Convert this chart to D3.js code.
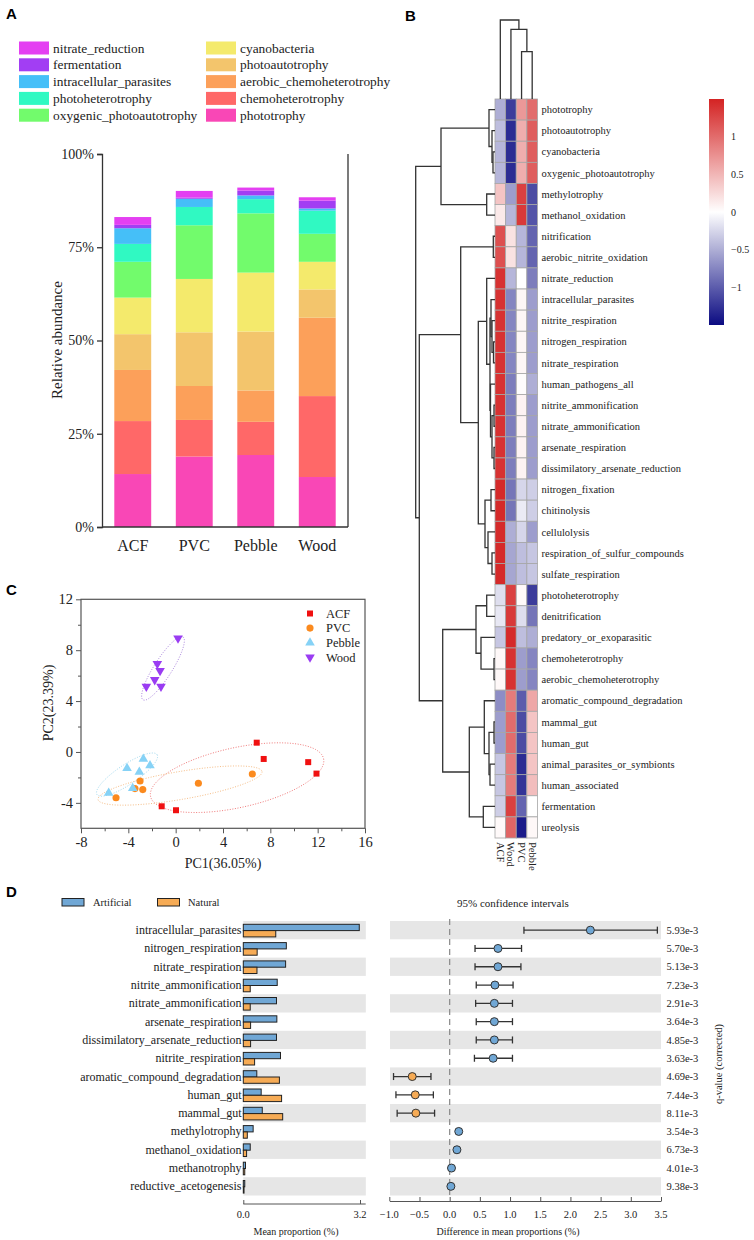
<!DOCTYPE html>
<html><head><meta charset="utf-8">
<script src="https://cdn.jsdelivr.net/npm/d3@7"></script>
<style>
body{margin:0;background:#fff}
svg{display:block}
text{font-family:"Liberation Serif","Times New Roman",serif;fill:#222}
.plab{font-family:"Liberation Sans",Arial,sans-serif;font-weight:bold;font-size:15px;fill:#000}
</style>
</head><body><svg id="c" width="754" height="1240"></svg>
<script>
// ================= DATA =================
// Panel A
const samplesA = ["ACF","PVC","Pebble","Wood"];
const phototrophy = [14.2,18.9,19.3,13.4];
const chemoheterotrophy = [14.2,9.8,8.9,21.7];
const aerobicChemoheterotrophy = [13.7,9.1,8.4,21.0];
const photoautotrophy = [9.6,14.4,15.8,7.6];
const cyanobacteria = [9.8,14.3,15.8,7.4];
const oxygenicPhotoautotrophy = [9.6,14.4,15.9,7.5];
const photoheterotrophy = [4.8,4.9,3.8,6.2];
const intracellularParasites = [4.2,2.2,1.0,0.6];
const fermentation = [0.9,0.3,1.3,2.1];
const nitrateReduction = [2.1,1.8,0.8,0.9];
const yTicksA = [0,25,50,75,100];

// Panel B
const heatCols = ["ACF","Wood","PVC","Pebble"];
const heatRows = ["phototrophy","photoautotrophy","cyanobacteria","oxygenic_photoautotrophy","methylotrophy","methanol_oxidation","nitrification","aerobic_nitrite_oxidation","nitrate_reduction","intracellular_parasites","nitrite_respiration","nitrogen_respiration","nitrate_respiration","human_pathogens_all","nitrite_ammonification","nitrate_ammonification","arsenate_respiration","dissimilatory_arsenate_reduction","nitrogen_fixation","chitinolysis","cellulolysis","respiration_of_sulfur_compounds","sulfate_respiration","photoheterotrophy","denitrification","predatory_or_exoparasitic","chemoheterotrophy","aerobic_chemoheterotrophy","aromatic_compound_degradation","mammal_gut","human_gut","animal_parasites_or_symbionts","human_associated","fermentation","ureolysis"];
const heatACF =    [-0.5,-0.4,-0.45,-0.45,0.4,0.15,1.2,1.2,1.4,1.4,1.4,1.4,1.4,1.4,1.4,1.4,1.4,1.4,1.45,1.45,1.45,1.45,1.45,-0.2,-0.15,-0.35,0.05,0.05,-0.7,-0.6,-0.6,-0.35,-0.35,-0.3,0.04];
const heatWood =   [-1.2,-1.3,-1.3,-1.3,-0.6,-0.45,0.2,0.2,-0.45,-0.75,-0.75,-0.75,-0.75,-0.8,-0.8,-0.8,-0.8,-0.8,-0.85,-0.85,-0.5,-0.55,-0.55,1.3,1.35,1.45,1.4,1.4,0.9,1.0,1.0,0.9,0.9,1.3,1.05];
const heatPVC =    [0.7,0.55,0.55,0.55,1.3,1.35,-0.45,-0.45,0.0,0.06,0.06,0.06,0.06,0.02,0.08,0.08,0.08,0.08,-0.25,-0.12,-0.25,-0.4,-0.4,0.04,-0.2,-0.4,-0.6,-0.6,-1.0,-1.1,-1.1,-1.3,-1.25,-0.95,-1.4];
const heatPebble = [1.0,1.1,1.1,1.1,-1.1,-1.05,-0.95,-0.95,-0.8,-0.6,-0.6,-0.6,-0.6,-0.5,-0.6,-0.6,-0.6,-0.6,-0.3,-0.3,-0.6,-0.35,-0.35,-1.2,-0.85,-0.5,-0.75,-0.75,0.6,0.4,0.4,0.4,0.45,0.0,0.05];
const colorbarTicks = [1,0.5,0,-0.5,-1];
// row dendrogram: [height, left, right]
const rowTree = [79.3,
  [54, [6,"phototrophy",[3,"photoautotrophy",[2,"cyanobacteria","oxygenic_photoautotrophy"]]],
       [8.3,"methylotrophy","methanol_oxidation"]],
  [75.7,
    [34.3, [1.7,"nitrification","aerobic_nitrite_oxidation"],
           [16.7, [8.3,"nitrate_reduction",
                     [5,[4,"intracellular_parasites",[3,"nitrite_respiration",[1.5,"nitrogen_respiration","nitrate_respiration"]]],
                        [4.5,"human_pathogens_all",[3,[1,"nitrite_ammonification","nitrate_ammonification"],[1,"arsenate_respiration","dissimilatory_arsenate_reduction"]]]]],
                  [10,[4,"nitrogen_fixation","chitinolysis"],[7,"cellulolysis",[3,"respiration_of_sulfur_compounds","sulfate_respiration"]]]]],
    [52.3, [19,[8.3,"photoheterotrophy","denitrification"],[14,"predatory_or_exoparasitic",[1,"chemoheterotrophy","aerobic_chemoheterotrophy"]]],
           [25.7,[10.7,"aromatic_compound_degradation",[6,[1,"mammal_gut","human_gut"],[5,"animal_parasites_or_symbionts","human_associated"]]],
                 [11.7,"fermentation","ureolysis"]]]]];
const colTree = [79, "ACF", [69.7, "Wood", [47.3, "PVC", "Pebble"]]];

// Panel C
const acfPts = [[6.85,0.73],[7.44,-0.55],[11.2,-0.8],[11.9,-1.7],[-1.18,-4.27],[0.03,-4.58]];
const pvcPts = [[1.92,-2.46],[6.48,-1.73],[-3.01,-2.28],[-3.44,-2.88],[-2.78,-2.96],[-5.04,-3.6]];
const pebblePts = [[-2.73,-0.55],[-2.17,-1.07],[-4.11,-1.28],[-3.07,-1.57],[-3.63,-2.85],[-5.66,-3.22]];
const woodPts = [[0.2,8.94],[-1.55,6.93],[-1.32,6.38],[-1.77,5.67],[-2.48,5.15],[-1.24,5.15]];
// ellipses: center, major half-vector, minor half-vector (data units)
const acfEllipse = [[5.19,-2.02],[7.31,1.49],[0.54,-2.3]];
const pvcEllipse = [[0.37,-2.64],[6.93,1.1],[0.2,-1.08]];
const pebbleEllipse = [[-4.11,-1.78],[2.54,1.57],[0.47,-0.65]];
const woodEllipse = [[-1.07,6.57],[1.69,2.47],[0.64,-0.38]];
const xTicksC = [-8,-4,0,4,8,12,16];
const xMinorC = [-6,-2,2,6,10,14];
const yTicksC = [-4,0,4,8,12];
const yMinorC = [-2,2,6,10];

// Panel D
const funcsD = ["intracellular_parasites","nitrogen_respiration","nitrate_respiration","nitrite_ammonification","nitrate_ammonification","arsenate_respiration","dissimilatory_arsenate_reduction","nitrite_respiration","aromatic_compound_degradation","human_gut","mammal_gut","methylotrophy","methanol_oxidation","methanotrophy","reductive_acetogenesis"];
const artificialMean = [3.18,1.18,1.16,0.93,0.91,0.92,0.91,1.02,0.37,0.49,0.52,0.27,0.19,0.06,0.04];
const naturalMean = [0.89,0.38,0.375,0.19,0.19,0.2,0.2,0.31,0.99,1.05,1.08,0.11,0.09,0.04,0.02];
const diffMean = [2.33,0.80,0.80,0.75,0.74,0.74,0.74,0.72,-0.62,-0.57,-0.56,0.15,0.12,0.03,0.02];
const ciLow = [1.23,0.42,0.42,0.44,0.43,0.44,0.44,0.41,-0.93,-0.89,-0.87,0.12,0.09,0.02,0.01];
const ciHigh = [3.44,1.19,1.18,1.05,1.04,1.04,1.04,1.04,-0.31,-0.27,-0.25,0.19,0.15,0.04,0.03];
const qValues = ["5.93e-3","5.70e-3","5.13e-3","7.23e-3","2.91e-3","3.64e-3","4.85e-3","3.63e-3","4.69e-3","7.44e-3","8.11e-3","3.54e-3","6.73e-3","4.01e-3","9.38e-3"];
const xTicksDLeft = [0,3.2];
const xTicksDRight = [-1,-0.5,0,0.5,1,1.5,2,2.5,3,3.5];

// ================= DRAW =================
const svg = d3.select("#c");
const ink = "#333";

// ---------- Panel A ----------
svg.append("text").attr("class","plab").attr("x",6).attr("y",19).text("A");
const keysA = ["phototrophy","chemoheterotrophy","aerobic_chemoheterotrophy","photoautotrophy","cyanobacteria","oxygenic_photoautotrophy","photoheterotrophy","intracellular_parasites","fermentation","nitrate_reduction"];
const seriesA = [phototrophy,chemoheterotrophy,aerobicChemoheterotrophy,photoautotrophy,cyanobacteria,oxygenicPhotoautotrophy,photoheterotrophy,intracellularParasites,fermentation,nitrateReduction];
const colA = d3.scaleOrdinal(keysA,["#f947b6","#ff6868","#fca05a","#f3c56c","#f4ea6c","#72fb6c","#30f9c2","#45bff8","#a23ef3","#e43ff2"]);
const tableA = samplesA.map((s,i)=>{const o={sample:s}; keysA.forEach((k,j)=>o[k]=seriesA[j][i]); return o;});
const stackA = d3.stack().keys(keysA)(tableA);
const xA = d3.scaleBand(samplesA,[102,348]).paddingInner(0.4).paddingOuter(0.2);
const yA = d3.scaleLinear([0,100],[527,154]);
svg.append("g").selectAll("g").data(stackA).join("g").attr("fill",d=>colA(d.key))
  .selectAll("rect").data(d=>d).join("rect")
  .attr("x",d=>xA(d.data.sample)).attr("width",xA.bandwidth())
  .attr("y",d=>yA(d[1])).attr("height",d=>yA(d[0])-yA(d[1]));
const gAy = svg.append("g").attr("transform","translate(102,0)")
  .call(d3.axisLeft(yA).tickValues(yTicksA).tickFormat(d=>d+"%").tickSize(5).tickPadding(3));
gAy.selectAll("text").style("font-size","14px").style("font-family","Liberation Serif");
gAy.selectAll("line,path").attr("stroke",ink).attr("stroke-width",1.3);
svg.append("line").attr("x1",102).attr("x2",348).attr("y1",527).attr("y2",527).attr("stroke",ink).attr("stroke-width",1.3);
svg.append("line").attr("x1",348).attr("x2",348).attr("y1",154).attr("y2",527).attr("stroke",ink).attr("stroke-width",1.3);
svg.append("g").selectAll("text").data(samplesA).join("text")
  .attr("x",d=>xA(d)+xA.bandwidth()/2).attr("y",551).attr("text-anchor","middle")
  .style("font-size","16px").text(d=>d);
svg.append("text").attr("transform","translate(62,340) rotate(-90)").attr("text-anchor","middle")
  .style("font-size","15px").text("Relative abundance");
// legend
const legLeft = ["nitrate_reduction","fermentation","intracellular_parasites","photoheterotrophy","oxygenic_photoautotrophy"];
const legRight = ["cyanobacteria","photoautotrophy","aerobic_chemoheterotrophy","chemoheterotrophy","phototrophy"];
[[legLeft,19,53],[legRight,206,240]].forEach(([items,sx,tx])=>{
  const g = svg.append("g");
  g.selectAll("rect").data(items).join("rect").attr("x",sx).attr("y",(d,i)=>41.5+i*16.8)
    .attr("width",30).attr("height",13).attr("fill",d=>colA(d));
  g.selectAll("text").data(items).join("text").attr("x",tx).attr("y",(d,i)=>48+i*16.8).attr("dy","0.35em")
    .style("font-size","13.4px").text(d=>d);
});

// ---------- Panel B ----------
svg.append("text").attr("class","plab").attr("x",405).attr("y",21).text("B");
const xB = d3.scaleBand(heatCols,[495,537.5]);
const yB = d3.scaleBand(heatRows,[99,838]);
const zB = d3.scaleLinear([-1.5,0,1.5],["#0b0b82","#ffffff","#d42323"]).clamp(true);
const heatSeries = [heatACF,heatWood,heatPVC,heatPebble];
const cells = [];
heatRows.forEach((r,i)=>heatCols.forEach((c,j)=>cells.push({r,c,v:heatSeries[j][i]})));
svg.append("g").selectAll("rect").data(cells).join("rect")
  .attr("x",d=>xB(d.c)).attr("y",d=>yB(d.r)).attr("width",xB.bandwidth()).attr("height",yB.bandwidth())
  .attr("fill",d=>zB(d.v)).attr("stroke","#a6a6a6").attr("stroke-width",0.8);
svg.append("g").selectAll("text").data(heatRows).join("text")
  .attr("x",541.5).attr("y",d=>yB(d)+yB.bandwidth()/2).attr("dy","0.35em")
  .style("font-size","10.5px").text(d=>d);
svg.append("g").selectAll("text").data(heatCols).join("text")
  .attr("transform",d=>`translate(${xB(d)+xB.bandwidth()/2},842) rotate(90)`)
  .attr("dominant-baseline","central").style("font-size","10.5px").text(d=>d);
// dendrograms
const dendro = svg.append("g").attr("fill","none").attr("stroke",ink).attr("stroke-width",1.3);
function drawTree(node, posOf, hScale, vertical){
  if (typeof node === "string") return {p: posOf(node), h: 0};
  const a = drawTree(node[1], posOf, hScale, vertical);
  const b = drawTree(node[2], posOf, hScale, vertical);
  const H = hScale(node[0]);
  const pts = vertical
    ? [[a.p,hScale(a.h)],[a.p,H],[b.p,H],[b.p,hScale(b.h)]]
    : [[hScale(a.h),a.p],[H,a.p],[H,b.p],[hScale(b.h),b.p]];
  dendro.append("path").attr("d", d3.line()(pts));
  return {p:(a.p+b.p)/2, h:node[0]};
}
drawTree(rowTree, n=>yB(n)+yB.bandwidth()/2, d3.scaleLinear([0,79.3],[495,415.7]), false);
drawTree(colTree, n=>xB(n)+xB.bandwidth()/2, d3.scaleLinear([0,79],[99,20]), true);
// colorbar
const cbY = d3.scaleLinear([-1.5,1.5],[325,99]);
const grad = svg.append("defs").append("linearGradient").attr("id","cbg").attr("x1",0).attr("x2",0).attr("y1",1).attr("y2",0);
d3.range(-1.5,1.51,0.25).forEach(v=>grad.append("stop").attr("offset",(v+1.5)/3).attr("stop-color",zB(v)));
svg.append("rect").attr("x",709).attr("y",99).attr("width",15).attr("height",226).attr("fill","url(#cbg)");
svg.append("g").selectAll("text").data(colorbarTicks).join("text")
  .attr("x",731).attr("y",d=>cbY(d)).attr("dy","0.35em").style("font-size","10px")
  .text(d=>d3.format("")(d));

// ---------- Panel C ----------
svg.append("text").attr("class","plab").attr("x",6).attr("y",595).text("C");
const xC = d3.scaleLinear([-8,16],[81,365]);
const yC = d3.scaleLinear([-6,12],[828.3,599.3]);
function ellipsePath(e){
  const [c,u,v] = e;
  const pts = d3.range(0,2*Math.PI+0.01,Math.PI/60).map(t=>[xC(c[0]+Math.cos(t)*u[0]+Math.sin(t)*v[0]), yC(c[1]+Math.cos(t)*u[1]+Math.sin(t)*v[1])]);
  return d3.line()(pts);
}
[[acfEllipse,"#f07a7a"],[pvcEllipse,"#f6bd86"],[pebbleEllipse,"#9fd8ef"],[woodEllipse,"#a983dd"]].forEach(([e,c])=>{
  svg.append("path").attr("d",ellipsePath(e)).attr("fill","none").attr("stroke",c).attr("stroke-width",1).attr("stroke-dasharray","1,1.6");
});
svg.append("rect").attr("x",81).attr("y",599.3).attr("width",284).attr("height",229).attr("fill","none").attr("stroke","#555").attr("stroke-width",1.2);
const gCx = svg.append("g").attr("transform","translate(0,828.3)").call(d3.axisBottom(xC).tickValues(xTicksC).tickFormat(d=>String(d)).tickSize(5).tickPadding(3));
gCx.select(".domain").remove();
gCx.selectAll("text").style("font-size","14.5px").style("font-family","Liberation Serif");
gCx.selectAll("line").attr("stroke","#555");
const gCxm = svg.append("g").attr("transform","translate(0,828.3)").call(d3.axisBottom(xC).tickValues(xMinorC).tickFormat("").tickSize(3));
gCxm.select(".domain").remove(); gCxm.selectAll("line").attr("stroke","#555");
const gCy = svg.append("g").attr("transform","translate(81,0)").call(d3.axisLeft(yC).tickValues(yTicksC).tickFormat(d=>String(d)).tickSize(5).tickPadding(3));
gCy.select(".domain").remove();
gCy.selectAll("text").style("font-size","14.5px").style("font-family","Liberation Serif");
gCy.selectAll("line").attr("stroke","#555");
const gCym = svg.append("g").attr("transform","translate(81,0)").call(d3.axisLeft(yC).tickValues(yMinorC).tickFormat("").tickSize(3));
gCym.select(".domain").remove(); gCym.selectAll("line").attr("stroke","#555");
svg.append("text").attr("x",223).attr("y",868).attr("text-anchor","middle").style("font-size","14px").text("PC1(36.05%)");
svg.append("text").attr("transform","translate(53,703) rotate(-90)").attr("text-anchor","middle").style("font-size","14px").text("PC2(23.39%)");
const groupsC = [
  {name:"ACF",pts:acfPts,color:"#f01010",sym:d3.symbolSquare,size:36,rot:0},
  {name:"PVC",pts:pvcPts,color:"#fb8a1e",sym:d3.symbolCircle,size:40,rot:0},
  {name:"Pebble",pts:pebblePts,color:"#86d2f6",sym:d3.symbolTriangle,size:40,rot:0},
  {name:"Wood",pts:woodPts,color:"#9a3cf2",sym:d3.symbolTriangle,size:40,rot:180}
];
groupsC.forEach(g=>{
  svg.append("g").selectAll("path").data(g.pts).join("path")
    .attr("d",d3.symbol(g.sym,g.size)).attr("fill",g.color)
    .attr("transform",d=>`translate(${xC(d[0])},${yC(d[1])}) rotate(${g.rot})`);
});
groupsC.forEach((g,i)=>{
  const y = 613.5+i*14.6;
  svg.append("path").attr("d",d3.symbol(g.sym,g.size)).attr("fill",g.color).attr("transform",`translate(310,${y}) rotate(${g.rot})`);
  svg.append("text").attr("x",326).attr("y",y).attr("dy","0.35em").style("font-size","12.5px").text(g.name);
});

// ---------- Panel D ----------
svg.append("text").attr("class","plab").attr("x",6).attr("y",897).text("D");
const blueD = "#70a7d5", orangeD = "#f6ab55";
// legend
svg.append("rect").attr("x",62).attr("y",898.5).attr("width",22).attr("height",7.5).attr("fill",blueD).attr("stroke","#222");
svg.append("text").attr("x",93).attr("y",902).attr("dy","0.35em").style("font-size","10.5px").text("Artificial");
svg.append("rect").attr("x",157.5).attr("y",898.5).attr("width",22).attr("height",7.5).attr("fill",orangeD).attr("stroke","#222");
svg.append("text").attr("x",188).attr("y",902).attr("dy","0.35em").style("font-size","10.5px").text("Natural");
svg.append("text").attr("x",457).attr("y",903.5).attr("dy","0.35em").style("font-size","11px").text("95% confidence intervals");

const yD = d3.scaleBand(funcsD,[921,921+15*18.3]);
const subD = d3.scaleBand(["Artificial","Natural"],[3.3,15.9]);
const xDL = d3.scaleLinear([0,3.2],[243.3,360]);
const xDR = d3.scaleLinear([-1,3.5],[389.3,661]);
// bands
svg.append("g").selectAll("rect").data(funcsD.filter((d,i)=>i%2===0)).join("rect")
  .attr("x",243.3).attr("width",xDL(3.36)-243.3).attr("y",d=>yD(d)).attr("height",yD.bandwidth()).attr("fill","#e6e6e6");
svg.append("g").selectAll("rect").data(funcsD.filter((d,i)=>i%2===0)).join("rect")
  .attr("x",xDR(-1)+0.7).attr("width",xDR(3.5)-xDR(-1)-0.7).attr("y",d=>yD(d)).attr("height",yD.bandwidth()).attr("fill","#e6e6e6");
// labels
svg.append("g").selectAll("text").data(funcsD).join("text")
  .attr("x",241.5).attr("y",d=>yD(d)+yD.bandwidth()/2).attr("dy","0.33em").attr("text-anchor","end")
  .style("font-size","12px").text(d=>d);
// bars
const barRows = [];
funcsD.forEach((f,i)=>{barRows.push({f,g:"Artificial",v:artificialMean[i]});barRows.push({f,g:"Natural",v:naturalMean[i]});});
svg.append("g").selectAll("rect").data(barRows).join("rect")
  .attr("x",xDL(0)).attr("y",d=>yD(d.f)+subD(d.g)).attr("height",subD.bandwidth())
  .attr("width",d=>xDL(d.v)-xDL(0)).attr("fill",d=>d.g==="Artificial"?blueD:orangeD)
  .attr("stroke","#222").attr("stroke-width",1);
// left axis
const gDL = svg.append("g").attr("transform","translate(0,1204)").call(d3.axisTop(xDL).tickValues(xTicksDLeft).tickFormat("").tickSize(4).tickSizeOuter(0));
gDL.selectAll("line").attr("stroke","#555");
gDL.select(".domain").attr("d","M243.3,0H365.7").attr("stroke","#555");
svg.append("g").selectAll("text").data(xTicksDLeft).join("text").attr("x",d=>xDL(d)).attr("y",1214).attr("dy","0.35em")
  .attr("text-anchor","middle").style("font-size","10.5px").text(d3.format(".1f"));
svg.append("text").attr("x",296).attr("y",1231).attr("dy","0.35em").attr("text-anchor","middle").style("font-size","10px").text("Mean proportion (%)");
// zero line
svg.append("line").attr("x1",xDR(0)).attr("x2",xDR(0)).attr("y1",919).attr("y2",1197).attr("stroke","#888").attr("stroke-width",1.2).attr("stroke-dasharray","6,4");
// CI
const gCI = svg.append("g").attr("stroke","#333").attr("stroke-width",1.3);
funcsD.forEach((f,i)=>{
  const y = yD(f)+yD.bandwidth()/2;
  gCI.append("line").attr("x1",xDR(ciLow[i])).attr("x2",xDR(ciHigh[i])).attr("y1",y).attr("y2",y);
  gCI.append("line").attr("x1",xDR(ciLow[i])).attr("x2",xDR(ciLow[i])).attr("y1",y-3.5).attr("y2",y+3.5);
  gCI.append("line").attr("x1",xDR(ciHigh[i])).attr("x2",xDR(ciHigh[i])).attr("y1",y-3.5).attr("y2",y+3.5);
});
svg.append("g").selectAll("circle").data(funcsD).join("circle")
  .attr("cx",(d,i)=>xDR(diffMean[i])).attr("cy",d=>yD(d)+yD.bandwidth()/2).attr("r",4)
  .attr("fill",(d,i)=>diffMean[i]<0?orangeD:blueD).attr("stroke","#333").attr("stroke-width",1);
// q values
svg.append("g").selectAll("text").data(funcsD).join("text")
  .attr("x",666.5).attr("y",d=>yD(d)+yD.bandwidth()/2).attr("dy","0.35em").style("font-size","10.5px")
  .text((d,i)=>qValues[i]);
svg.append("text").attr("transform","translate(718,1064) rotate(-90)").attr("text-anchor","middle").attr("dy","0.35em")
  .style("font-size","10.5px").text("q-value (corrected)");
// right axis
const gDR = svg.append("g").attr("transform","translate(0,1201)").call(d3.axisTop(xDR).tickValues(xTicksDRight).tickFormat("").tickSize(4).tickSizeOuter(0));
gDR.selectAll("line").attr("stroke","#555");
gDR.select(".domain").attr("stroke","#555");
svg.append("g").selectAll("text").data(xTicksDRight).join("text").attr("x",d=>xDR(d)).attr("y",1214).attr("dy","0.35em")
  .attr("text-anchor","middle").style("font-size","10.5px").text(d3.format(".1f"));
svg.append("text").attr("x",508).attr("y",1231).attr("dy","0.35em").attr("text-anchor","middle").style("font-size","10px").text("Difference in mean proportions (%)");
</script>
</body></html>
